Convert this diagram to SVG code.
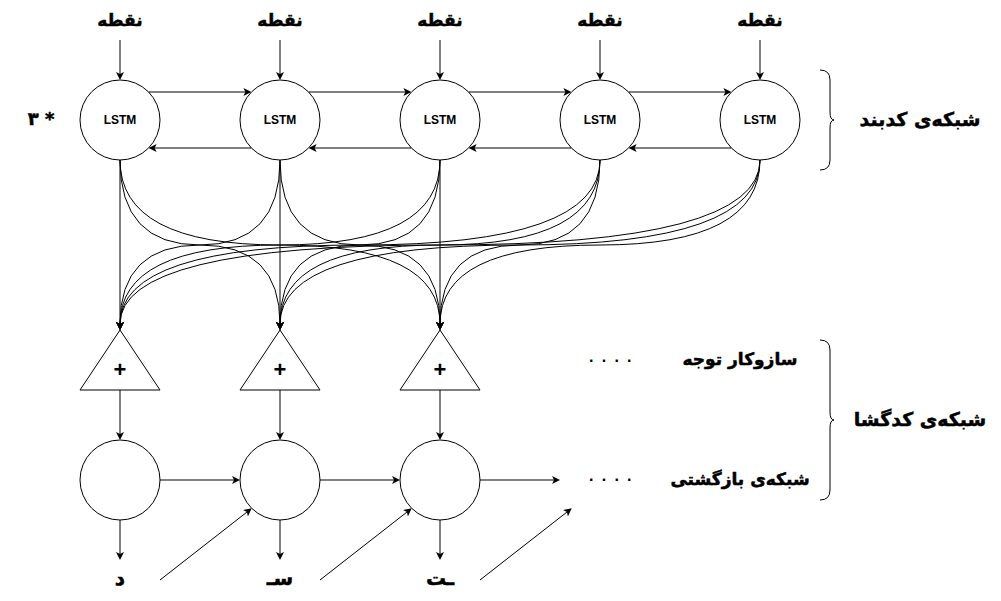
<svg xmlns="http://www.w3.org/2000/svg" width="1001" height="601" viewBox="0 0 1001 601">
<style>
.n{fill:#fff;stroke:#000;stroke-width:1}
.e{fill:none;stroke:#000;stroke-width:1;marker-end:url(#arr)}
.b{fill:none;stroke:#000;stroke-width:1}
.fa{font-family:"DejaVu Sans",sans-serif;font-weight:bold;fill:#000;stroke:#000;stroke-width:0.5;text-anchor:middle;dominant-baseline:central}
.fl{font-family:"Liberation Sans",Arial,sans-serif;font-weight:bold;fill:#000;text-anchor:middle;dominant-baseline:central}
.dots{font-family:"Liberation Sans",Arial,sans-serif;font-weight:bold;fill:#000;font-size:16px;letter-spacing:8.25px}
</style>
<defs>
<marker id="arr" markerUnits="userSpaceOnUse" viewBox="-1 -5 10 10" markerWidth="10" markerHeight="10" refX="2" refY="0" orient="auto"><path d="M8,0 L0,-4 L2,0 L0,4 Z" fill="#000"/></marker>
</defs>
<rect width="1001" height="601" fill="#fff"/>
<g id="connectors">
<path class="e" d="M120,40 V74"/><path class="e" d="M280,40 V74"/><path class="e" d="M440,40 V74"/><path class="e" d="M600,40 V74"/><path class="e" d="M760,40 V74"/>
<path class="e" d="M148.6,92 H245.4"/><path class="e" d="M308.6,92 H405.4"/><path class="e" d="M468.6,92 H565.4"/><path class="e" d="M628.6,92 H725.4"/>
<path class="e" d="M251.4,148 H154.6"/><path class="e" d="M411.4,148 H314.6"/><path class="e" d="M571.4,148 H474.6"/><path class="e" d="M731.4,148 H634.6"/>
<path class="e" d="M120,160 V324"/>
<path class="e" d="M120,160 Q120,245 200,245 Q280,245 280,324"/>
<path class="e" d="M120,160 Q120,245 280,245 Q440,245 440,324"/>
<path class="e" d="M280,160 Q280,245 200,245 Q120,245 120,324"/>
<path class="e" d="M280,160 V324"/>
<path class="e" d="M280,160 Q280,245 360,245 Q440,245 440,324"/>
<path class="e" d="M440,160 Q440,245 280,245 Q120,245 120,324"/>
<path class="e" d="M440,160 Q440,245 360,245 Q280,245 280,324"/>
<path class="e" d="M440,160 V324"/>
<path class="e" d="M600,160 Q600,245 360,245 Q120,245 120,324"/>
<path class="e" d="M600,160 Q600,245 440,245 Q280,245 280,324"/>
<path class="e" d="M600,160 Q600,245 520,245 Q440,245 440,324"/>
<path class="e" d="M760,160 Q760,245 440,245 Q120,245 120,324"/>
<path class="e" d="M760,160 Q760,245 520,245 Q280,245 280,324"/>
<path class="e" d="M760,160 Q760,245 600,245 Q440,245 440,324"/>
<path class="e" d="M120,390 V434"/><path class="e" d="M280,390 V434"/><path class="e" d="M440,390 V434"/>
<path class="e" d="M160,480 H234"/><path class="e" d="M320,480 H394"/><path class="e" d="M480,480 H554"/>
<path class="e" d="M120,520 V554"/><path class="e" d="M280,520 V554"/><path class="e" d="M440,520 V554"/>
<path class="e" d="M160,580 L247,512"/><path class="e" d="M320,580 L407,512"/><path class="e" d="M480,580 L567,512"/>
</g>
<g id="inputs">
<text class="fa" x="120" y="20" font-size="17">نقطه</text>
<text class="fa" x="280" y="20" font-size="17">نقطه</text>
<text class="fa" x="440" y="20" font-size="17">نقطه</text>
<text class="fa" x="600" y="20" font-size="17">نقطه</text>
<text class="fa" x="760" y="20" font-size="17">نقطه</text>
</g>
<g id="enc1"><circle class="n" cx="120" cy="120" r="40"/><text class="fl" x="120" y="120" font-size="12">LSTM</text></g>
<g id="enc2"><circle class="n" cx="280" cy="120" r="40"/><text class="fl" x="280" y="120" font-size="12">LSTM</text></g>
<g id="enc3"><circle class="n" cx="440" cy="120" r="40"/><text class="fl" x="440" y="120" font-size="12">LSTM</text></g>
<g id="enc4"><circle class="n" cx="600" cy="120" r="40"/><text class="fl" x="600" y="120" font-size="12">LSTM</text></g>
<g id="enc5"><circle class="n" cx="760" cy="120" r="40"/><text class="fl" x="760" y="120" font-size="12">LSTM</text></g>
<g id="att1"><path class="n" d="M120,330 L160,390 L80,390 Z"/><text class="fl" x="120" y="369" font-size="22">+</text></g>
<g id="att2"><path class="n" d="M280,330 L320,390 L240,390 Z"/><text class="fl" x="280" y="369" font-size="22">+</text></g>
<g id="att3"><path class="n" d="M440,330 L480,390 L400,390 Z"/><text class="fl" x="440" y="369" font-size="22">+</text></g>
<g id="dec1"><circle class="n" cx="120" cy="480" r="40"/></g>
<g id="dec2"><circle class="n" cx="280" cy="480" r="40"/></g>
<g id="dec3"><circle class="n" cx="440" cy="480" r="40"/></g>
<g id="outputs">
<text class="fa" x="120" y="578" font-size="20">د</text>
<text class="fa" x="280" y="578" font-size="20">سـ</text>
<text class="fa" x="440" y="578" font-size="20">ـت</text>
</g>
<g id="labels">
<text class="fa" x="41" y="118" font-size="18" direction="ltr">۳ *</text>
<text class="fa" x="920" y="119" font-size="19">شبکه‌ی کدبند</text>
<text class="fa" x="920" y="419" font-size="19">شبکه‌ی کدگشا</text>
<text class="fa" x="740" y="359" font-size="17">سازوکار توجه</text>
<text class="fa" x="740" y="479" font-size="17">شبکه‌ی بازگشتی</text>
<text class="dots" x="589" y="362">....</text>
<text class="dots" x="589" y="481">....</text>
</g>
<g id="braces">
<path class="b" d="M820,70 Q830,70 830,80 V112 Q830,120 834,120 Q830,120 830,128 V160 Q830,170 820,170"/>
<path class="b" d="M820,340 Q830,340 830,350 V412 Q830,420 834,420 Q830,420 830,428 V490 Q830,500 820,500"/>
</g>
</svg>
